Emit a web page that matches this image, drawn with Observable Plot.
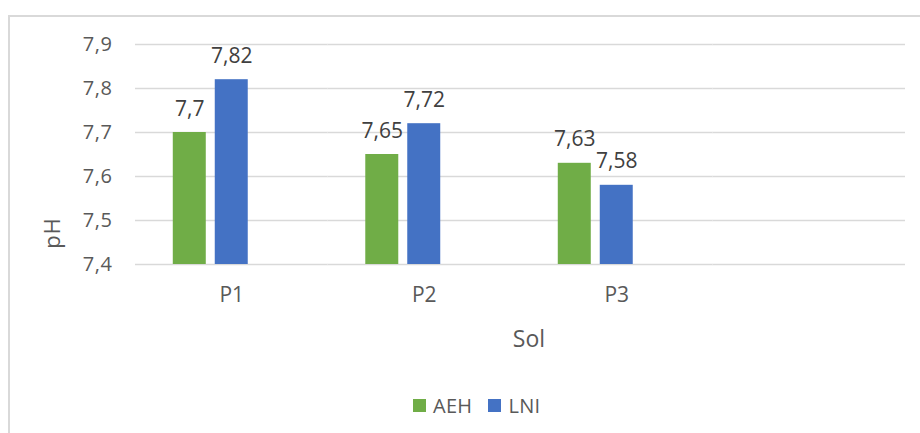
<!DOCTYPE html>
<html>
<head>
<meta charset="utf-8">
<script src="https://cdn.jsdelivr.net/npm/d3@7"></script>
<script src="https://cdn.jsdelivr.net/npm/@observablehq/plot@0.6"></script>
<style>
  html, body { margin: 0; padding: 0; background: #fff; width: 920px; height: 433px; overflow: hidden; }
  #box { position: absolute; left: 8px; top: 15px; width: 1000px; height: 500px; border: 2px solid #d9d9d9; box-sizing: border-box; }
  #chart { position: absolute; left: 0; top: 0; }
  #chart svg { font-family: "Open Sans", sans-serif; }
  #chart g[aria-label="fx-axis tick label"], #chart g[aria-label="fx-axis tick label"] text { font-size: 21px !important; fill: #595959; }
  #chart g[aria-label="y-axis tick label"], #chart g[aria-label="y-axis tick label"] text { font-size: 20px !important; letter-spacing: 0.6px; fill: #595959; }
  #legend { position: absolute; left: 413px; top: 392px; display: flex; align-items: center;
            font-family: "Open Sans", sans-serif; font-size: 20px; color: #595959; letter-spacing: 0.3px; }
  #legend .item { display: flex; align-items: center; margin-right: 16px; }
  #legend .sw { width: 13px; height: 13px; margin-right: 7px; }
</style>
</head>
<body>
<div id="box"></div>
<div id="chart"></div>
<div id="legend"></div>
<script>
// Soil pH per plot, two sampling series
const categories = ["P1", "P2", "P3"];
const seriesNames = ["AEH", "LNI"];
const aehValues = [7.7, 7.65, 7.63];
const lniValues = [7.82, 7.72, 7.58];
const yTicks = [7.4, 7.5, 7.6, 7.7, 7.8, 7.9];
const seriesColors = ["#70ad47", "#4472c4"];
const xTitle = "Sol";
const yTitle = "pH";

// one spare category slot on the right and one spare series slot in each group
const slots = [...categories, " "];
const seriesSlots = [...seriesNames, "·"];

const rows = categories.flatMap((cat, i) => [
  {cat, series: seriesNames[0], value: aehValues[i]},
  {cat, series: seriesNames[1], value: lniValues[i]}
]);
const gridRows = slots.flatMap(cat => yTicks.map(v => ({cat, v})));

const fmt = v => String(v).replace(".", ",");

const chart = Plot.plot({
  width: 920,
  height: 370,
  marginLeft: 135,
  marginRight: 15,
  marginTop: 44,
  marginBottom: 106,
  style: {fontFamily: "Open Sans, sans-serif", fontSize: "20px", color: "#595959", background: "transparent", overflow: "visible"},
  fx: {domain: slots, paddingInner: 0, paddingOuter: 0, round: false, label: null, axis: "bottom", tickSize: 0, tickPadding: 23},
  x: {domain: seriesSlots, paddingInner: 0.214, paddingOuter: 0.9, round: false, axis: null},
  y: {domain: [yTicks[0], yTicks[yTicks.length - 1]], ticks: yTicks, tickSize: 0, tickPadding: 23, label: null, tickFormat: fmt},
  color: {domain: seriesNames, range: seriesColors},
  marks: [
    Plot.ruleY(gridRows, {fx: "cat", y: "v", stroke: "#d9d9d9", strokeWidth: 1.4}),
    Plot.barY(rows, {fx: "cat", x: "series", y1: yTicks[0], y2: "value", fill: "series"}),
    Plot.text(rows, {fx: "cat", x: "series", y: "value", text: d => fmt(d.value),
      lineAnchor: "bottom", dy: -17, fill: "#404040", fontSize: 21})
  ]
});
document.getElementById("chart").appendChild(chart);

const svg = d3.select(chart);

// axis titles
svg.append("text")
  .attr("transform", "translate(60,233) rotate(-90)")
  .attr("text-anchor", "middle")
  .attr("fill", "#595959")
  .style("font-size", "22px")
  .style("letter-spacing", "1px")
  .text(yTitle);
svg.append("text")
  .attr("x", 529).attr("y", 347)
  .attr("text-anchor", "middle")
  .attr("fill", "#595959")
  .style("font-size", "23px")
  .text(xTitle);

// legend
const legend = d3.select("#legend");
seriesNames.forEach((name, i) => {
  const item = legend.append("div").attr("class", "item");
  item.append("div").attr("class", "sw").style("background", seriesColors[i]);
  item.append("span").text(name);
});
</script>
</body>
</html>
